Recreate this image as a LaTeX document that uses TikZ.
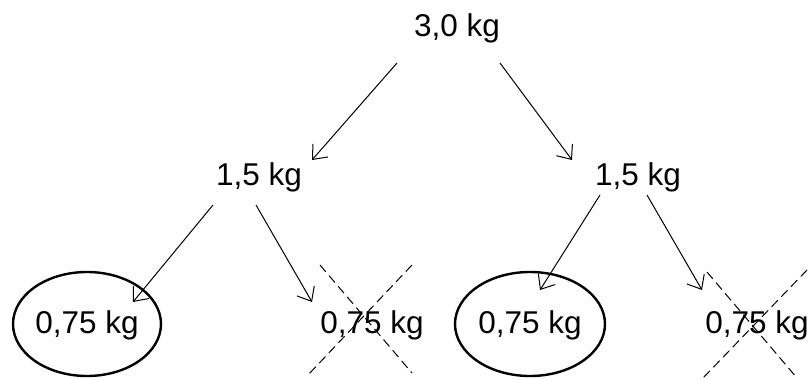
\documentclass[tikz,border=0pt]{standalone}
\usepackage{fontspec}
\setmainfont{Liberation Sans}
\usetikzlibrary{arrows.meta}
\begin{document}
\begin{tikzpicture}[x=1pt,y=-1pt,
  lbl/.style={inner sep=0pt,font=\fontsize{31.5}{36}\selectfont},
  arr/.style={line width=1pt,-{Straight Barb[length=12pt,width=20pt,line width=1pt]}},
  oval/.style={draw,line width=2.4pt},
  cross/.style={line width=1pt,dash pattern=on 9pt off 5pt}]
\useasboundingbox (0,0) rectangle (812,380);
% labels
\node[lbl] (top) at (457,28) {3,0 kg};
\node[lbl] (ml) at (259,177) {1,5 kg};
\node[lbl] (mr) at (638,177) {1,5 kg};
\node[lbl] (c1) at (87,325) {0,75 kg};
\node[lbl] (c2) at (372,325) {0,75 kg};
\node[lbl] (c3) at (530,325) {0,75 kg};
\node[lbl] (c4) at (757,325) {0,75 kg};
% ovals
\draw[oval] (87,324) ellipse [x radius=74pt, y radius=52pt];
\draw[oval] (530,324) ellipse [x radius=75pt, y radius=52pt];
% arrow anchors
\coordinate (t1) at (397,63);  \coordinate (h1) at (312,160);
\coordinate (t2) at (500,63);  \coordinate (h2) at (572,160);
\coordinate (t3) at (213,205); \coordinate (h3) at (133,302);
\coordinate (t4) at (256,205); \coordinate (h4) at (312,302);
\coordinate (t5) at (600,195); \coordinate (h5) at (540,290);
\coordinate (t6) at (647,195); \coordinate (h6) at (702,290);
\draw[arr] (t1) -- (h1);
\draw[arr] (t2) -- (h2);
\draw[arr] (t3) -- (h3);
\draw[arr] (t4) -- (h4);
\draw[arr] (t5) -- (h5);
\draw[arr] (t6) -- (h6);
% crosses
\coordinate (x1a) at (320,265); \coordinate (x1b) at (412,373);
\coordinate (x1c) at (412,265); \coordinate (x1d) at (308,375);
\coordinate (x2a) at (707,272); \coordinate (x2b) at (797,378);
\coordinate (x2c) at (807,270); \coordinate (x2d) at (703,378);
\draw[cross] (x1a) -- (x1b);
\draw[cross] (x1c) -- (x1d);
\draw[cross] (x2a) -- (x2b);
\draw[cross] (x2c) -- (x2d);
\end{tikzpicture}
\end{document}
